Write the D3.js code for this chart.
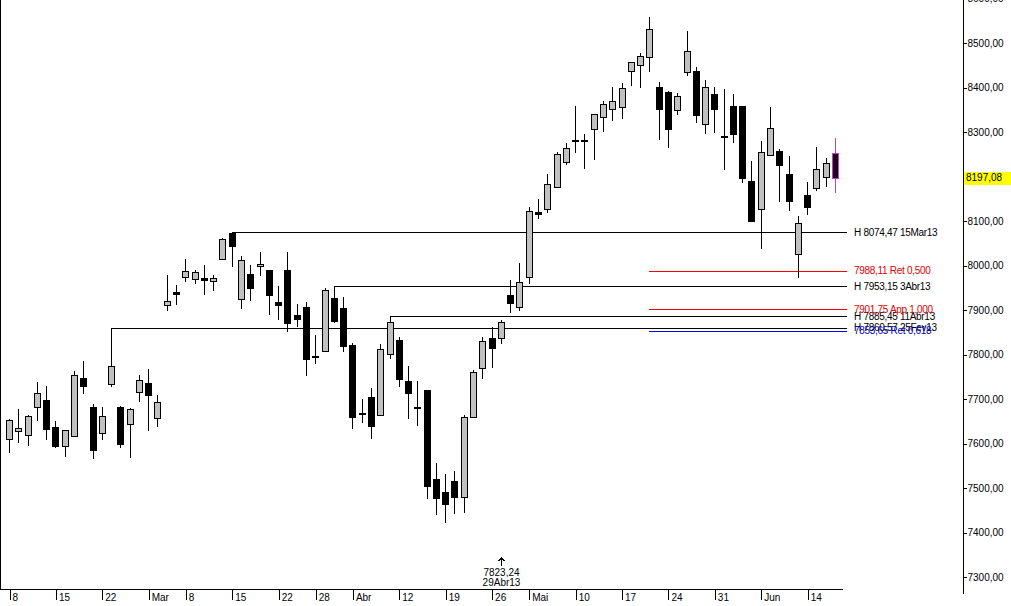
<!DOCTYPE html>
<html><head><meta charset="utf-8">
<script src="https://cdn.jsdelivr.net/npm/d3@7"></script>
<style>html,body{margin:0;padding:0;background:#fff;}svg{display:block;}text{font-family:"Liberation Sans",Arial,sans-serif;font-size:10px;}line,rect,path{shape-rendering:crispEdges;}</style>
</head><body>
<script>
// ---- data (DAX daily, 08 Feb 2013 .. 19 Jun 2013) ----
const opens  = [7610,7628,7619,7682,7698,7637,7594,7616,7747,7682,7624,7734,7682,7644,7716,7736,7657,7911,7940,7974,7970,7972,7965,8015,8074,7925,7981,7999,7989,7918,7990,7889,7907,7797,7808,7927,7904,7821,7668,7704,7665,7801,7833,7740,7683,7720,7520,7491,7516,7480,7660,7770,7837,7837,7934,7907,7974,8120,8127,8176,8233,8279,8283,8307,8334,8352,8356,8437,8450,8468,8401,8390,8349,8435,8437,8318,8385,8290,8358,8358,8190,8127,8249,8257,8206,8026,8158,8174,8199,8253];
const highs  = [7655,7677,7663,7738,7729,7650,7631,7763,7785,7689,7683,7860.57,7684,7680,7754,7767,7709,7979,7956,8015,7990,8001,7979,8062,8074.47,8021,8001,8030,7990,7954,8030,7913,7918,7844,7949,7953.15,7929,7826,7700,7725,7824,7885.45,7839,7774,7740,7721,7556,7531,7538,7664,7765,7839,7862,7878,7967,8006,8131,8149,8206,8255,8275,8358,8295,8341,8370,8401,8410,8458,8477,8557.86,8412,8392,8388,8527,8446,8417,8401,8397,8385,8359,8235,8280,8356,8262,8246,8111,8188,8266,8241,8286];
const lows   = [7579,7601,7594,7650,7608,7590,7570,7614,7711,7565,7608,7727,7590,7567,7693,7628,7637,7898,7911,7963,7958,7934,7943,8014,7997,7902,7920,7976,7889,7877,7850,7862,7752,7779,7807,7871,7806,7633,7646,7610,7663,7790,7727,7655,7639,7475,7439,7421,7441,7444,7659,7745,7770,7823.24,7893,7898,7958,8104,8118,8174,8226,8253,8217,8237,8300,8325,8329,8403,8399,8435,8282,8264,8338,8426,8320,8296,8298,8215,8275,8185,8099,8037,8247,8143,8122,7972,8113,8167,8176,8163];
const closes = [7653,7635,7661,7713,7633,7594,7630,7754,7729,7585,7662,7774,7599,7677,7743,7709,7693,7920,7936,7988,7985,7967,7972,8059,8044,8012,7949,8003,7934,7911,7871,7880,7790,7794,7945,7875,7819,7660,7666,7639,7812,7873,7745,7713,7681,7504,7477,7464,7480,7660,7761,7830,7815,7873,7916,7963,8122,8116,8183,8250,8264,8281,8281,8340,8363,8370,8399,8457,8471,8531,8352,8307,8381,8482,8338,8401,8352,8288,8296,8197,8100,8255,8309,8226,8145,8095,8131,8217,8230,8197.08];

const xTickIdx    = [0,5,10,15,19,24,29,33,37,42,47,52,56,61,66,71,76,81,86];
const xTickLabels = ["8","15","22","Mar","8","15","22","28","Abr","12","19","26","Mai","10","17","24","31","Jun","14"];
const yTicks = [7300,7400,7500,7600,7700,7800,7900,8000,8100,8300,8400,8500,8600];

const hLevels   = [8074.47, 7953.15, 7885.45, 7860.57];
const hStartIdx = [24, 35, 41, 11];
const hLabels   = ["H 8074,47 15Mar13","H 7953,15 3Abr13","H 7885,45 11Abr13","H 7860,57 25Fev13"];

const fibLevels = [7988.11, 7901.75, 7853.65];
const fibLabels = ["7988,11 Ret 0,500","7901,75 App 1,000","7853,65 Ret 0,618"];
const fibStartIdx = 69;

const lastPrice = 8197.08;
const markIdx = 53, markValue = "7823,24", markDate = "29Abr13";

// ---- layout ----
const W = 1011, H = 606;
const svg = d3.select("body").append("svg").attr("width", W).attr("height", H);
svg.append("rect").attr("width", W).attr("height", H).attr("fill", "#fff");

const x = d3.scaleLinear().domain([0, opens.length - 1]).range([9, 835]);
const y = d3.scaleLinear().domain([7300, 8500]).range([577, 43]);
const fmt = v => d3.format(".2f")(v).replace(".", ",");
const px = v => Math.round(v) + 0.5;

const lineEnd = 847, labelX = 854;

// left border
svg.append("line").attr("x1", 0.5).attr("x2", 0.5).attr("y1", 0).attr("y2", 589).attr("stroke", "#000");

// horizontal high lines
const gl = svg.append("g");
hLevels.forEach((v, i) => {
  gl.append("line").attr("x1", Math.round(x(hStartIdx[i]))).attr("x2", lineEnd)
    .attr("y1", px(y(v))).attr("y2", px(y(v))).attr("stroke", "#000");
  gl.append("text").attr("x", labelX).attr("y", y(v)).attr("dy", "0.35em").attr("fill", "#000")
    .style("letter-spacing", "-0.3px").text(hLabels[i]);
});
const fibLineColors = ["#ff0000", "#ff0000", "#0000ff"];
const fibTextColors = ["#e00000", "#e00000", "#0000c0"];
fibLevels.forEach((v, i) => {
  gl.append("line").attr("x1", Math.round(x(fibStartIdx))).attr("x2", lineEnd)
    .attr("y1", px(y(v))).attr("y2", px(y(v))).attr("stroke", fibLineColors[i]).attr("stroke-width", 1);
  gl.append("text").attr("x", labelX).attr("y", y(v)).attr("dy", "0.35em").attr("fill", fibTextColors[i])
    .style("letter-spacing", "-0.3px").text(fibLabels[i]);
});

// candles
const gc = svg.append("g");
const last = opens.length - 1;
opens.forEach((o, i) => {
  const c = closes[i], hi = highs[i], lo = lows[i];
  const cx = Math.round(x(i)) + 0.5;
  const isLast = i === last;
  const up = c > o;
  const stroke = isLast ? "#c040c0" : "#000";
  gc.append("line").attr("x1", cx).attr("x2", cx)
    .attr("y1", Math.round(y(hi))).attr("y2", Math.round(y(lo))).attr("stroke", stroke);
  const top = Math.round(y(Math.max(o, c))), bot = Math.round(y(Math.min(o, c)));
  const h = Math.max(1, bot - top);
  gc.append("rect").attr("x", cx - 3).attr("y", top + 0.5).attr("width", 6).attr("height", h)
    .attr("fill", isLast ? "#1a001a" : (up ? "#c0c0c0" : "#000")).attr("stroke", stroke);
});

// x axis
const xAxis = d3.axisBottom(x).tickValues(xTickIdx).tickFormat((d, i) => xTickLabels[i]).tickSize(11).tickSizeOuter(0);
const gx = svg.append("g").attr("transform", "translate(0,589)").call(xAxis);
gx.select(".domain").remove();
gx.selectAll(".tick line").attr("stroke", "#000").attr("transform", "translate(0.5,0)");
gx.selectAll(".tick text").attr("x", 3).attr("y", 5).attr("dy", "0.71em").attr("text-anchor", "start")
  .attr("fill", "#000").style("font-family", "Liberation Sans, Arial, sans-serif").style("font-size", "10px");
svg.append("line").attr("x1", 0).attr("x2", 843).attr("y1", 589.5).attr("y2", 589.5).attr("stroke", "#000");

// y axis
const yAxis = d3.axisRight(y).tickValues(yTicks).tickFormat(fmt).tickSize(3).tickPadding(1);
const gy = svg.append("g").attr("transform", "translate(963.5,0)").call(yAxis);
gy.select(".domain").remove();
gy.selectAll(".tick text").attr("fill", "#000").style("font-family", "Liberation Sans, Arial, sans-serif").style("font-size", "10px");
gy.selectAll(".tick line").attr("stroke", "#000");
svg.append("line").attr("x1", 963.5).attr("x2", 963.5).attr("y1", 0).attr("y2", 594).attr("stroke", "#000");

// last price box
const ly = y(lastPrice);
svg.append("rect").attr("x", 964).attr("y", Math.round(ly) - 6).attr("width", 47).attr("height", 13).attr("fill", "#ffff00");
svg.append("text").attr("x", 966).attr("y", ly).attr("dy", "0.35em").attr("fill", "#000").text(fmt(lastPrice));

// bottom marker
const mx = Math.round(x(markIdx)) + 0.5;
svg.append("path").attr("d", `M${mx},566 L${mx},558 M${mx-3},561 L${mx},558 L${mx+3},561`).attr("stroke", "#000").attr("fill", "none");
svg.append("text").attr("x", mx).attr("y", 572).attr("dy", "0.35em").attr("text-anchor", "middle").text(markValue);
svg.append("text").attr("x", mx).attr("y", 582).attr("dy", "0.35em").attr("text-anchor", "middle").text(markDate);
</script>
</body></html>
